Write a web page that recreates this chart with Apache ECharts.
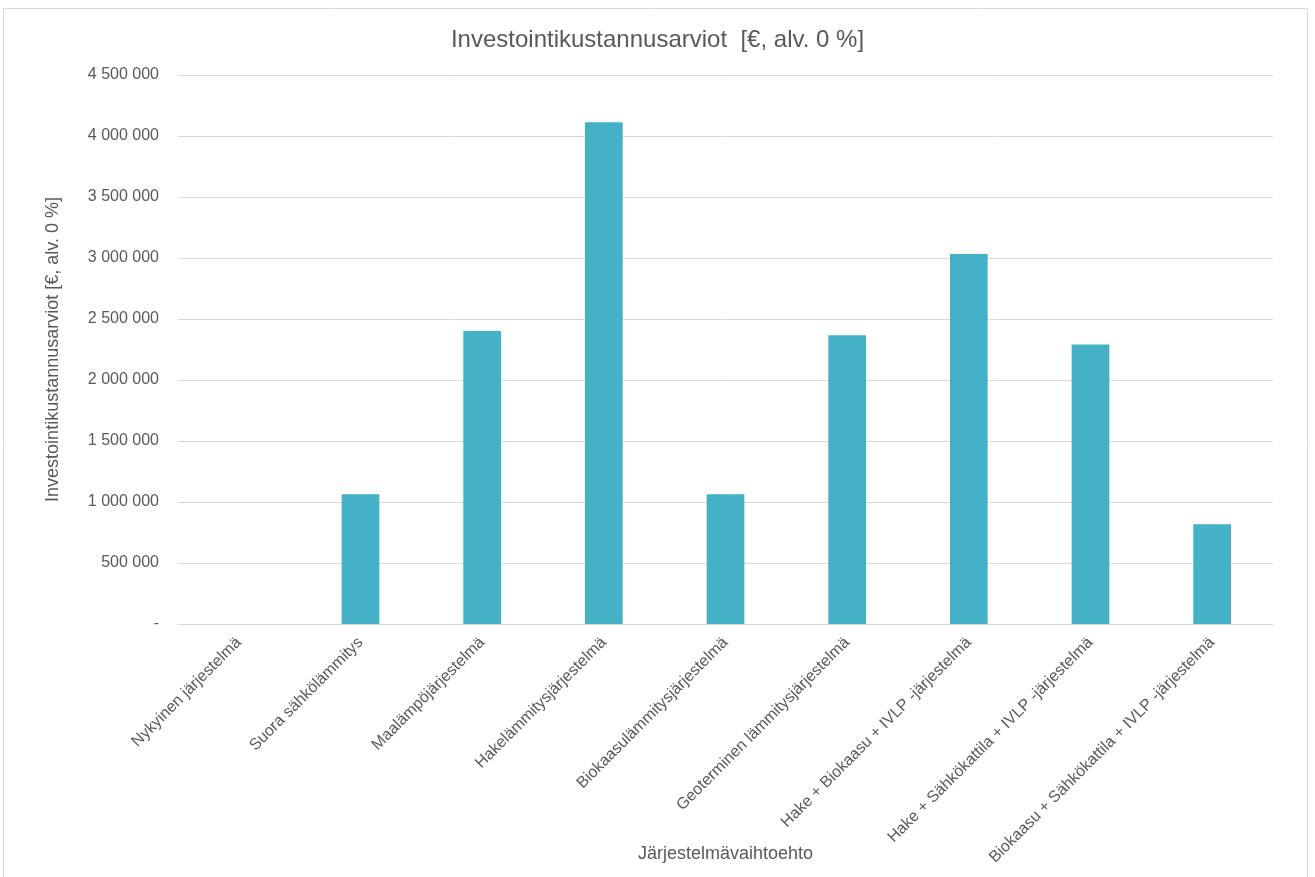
<!DOCTYPE html>
<html>
<head>
<meta charset="utf-8">
<script src="https://cdn.jsdelivr.net/npm/echarts@6/dist/echarts.min.js"></script>
<style>
html,body{margin:0;padding:0;background:#fff;}
#c{width:1315px;height:877px;}
</style>
</head>
<body>
<div id="c"></div>
<script>
const categories = [
  'Nykyinen järjestelmä',
  'Suora sähkölämmitys',
  'Maalämpöjärjestelmä',
  'Hakelämmitysjärjestelmä',
  'Biokaasulämmitysjärjestelmä',
  'Geoterminen lämmitysjärjestelmä',
  'Hake + Biokaasu + IVLP -järjestelmä',
  'Hake + Sähkökattila + IVLP -järjestelmä',
  'Biokaasu + Sähkökattila + IVLP -järjestelmä'
];
const values = [0, 1063000, 2402000, 4112000, 1063000, 2366000, 3033000, 2290000, 817000];
const titleText = 'Investointikustannusarviot  [€, alv. 0 %]';
const yAxisName = 'Investointikustannusarviot [€, alv. 0 %]';
const xAxisName = 'Järjestelmävaihtoehto';

function fmt(v){
  if (v === 0) return '-';
  return String(v).replace(/\B(?=(\d{3})+(?!\d))/g, ' ');
}

const FONT = 'Liberation Sans, Arial, sans-serif';
const chart = echarts.init(document.getElementById('c'), null, {renderer:'canvas'});
chart.setOption({
  backgroundColor:'#fff',
  animation:false,
  textStyle:{fontFamily:FONT},
  title:{
    text:titleText, left:'center', top:23,
    textStyle:{fontSize:24, fontWeight:'normal', color:'#595959', fontFamily:FONT}
  },
  graphic:[{
    type:'rect', shape:{x:3.5, y:8.5, width:1304, height:880},
    style:{fill:'none', stroke:'#d9d9d9', lineWidth:1}, silent:true
  }],
  grid:{left:178, right:42, top:75, bottom:253, containLabel:false, outerBoundsMode:'none'},
  xAxis:{
    type:'category', data:categories,
    name:xAxisName, nameLocation:'middle', nameGap:221, nameMoveOverlap:false,
    nameTextStyle:{fontSize:18, color:'#595959', fontFamily:FONT},
    axisLine:{lineStyle:{color:'#d9d9d9', width:1}},
    axisTick:{show:false},
    axisLabel:{rotate:45, interval:0, fontSize:16, color:'#595959', margin:16, fontFamily:FONT}
  },
  yAxis:{
    type:'value', min:0, max:4500000, interval:500000,
    name:yAxisName, nameLocation:'middle', nameGap:116, nameRotate:90, nameMoveOverlap:false,
    nameTextStyle:{fontSize:18, color:'#595959', fontFamily:FONT},
    axisLine:{show:false}, axisTick:{show:false},
    splitLine:{lineStyle:{color:'#d9d9d9', width:1}},
    axisLabel:{formatter:fmt, fontSize:16, color:'#595959', margin:19, fontFamily:FONT}
  },
  series:[{
    type:'bar', data:values, barWidth:'31%',
    itemStyle:{color:'#44B1C6'}
  }]
});
</script>
</body>
</html>
